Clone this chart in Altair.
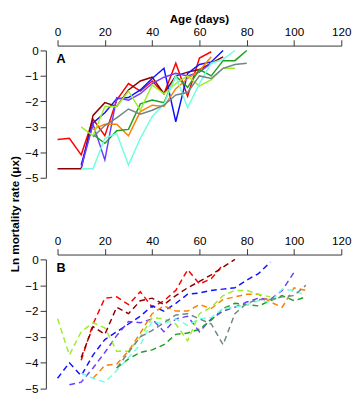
import altair as alt
import pandas as pd

DAYS = [0, 5, 10, 15, 20, 25, 30, 35, 40, 45, 50, 55, 60, 65, 70, 75, 80, 85, 90, 95, 100, 105]
N = None

# Panel A (solid lines) – ln mortality rate by age, one value per DAYS entry
A_red     = [-3.5, -3.45, -4.1, -2.7, -3.35, -1.95, -1.3, -1.6, -1.2, -1.7, -0.5, -1.8, -0.3, -0.05, N, N, N, N, N, N, N, N]
A_darkred = [-4.65, -4.65, -4.65, -2.55, -2.05, -2.2, -1.55, -1.2, -1.05, -1.7, -1.0, -0.85, -0.75, -0.5, -0.25, N, N, N, N, N, N, N]
A_blue    = [N, N, -4.5, -2.85, -2.45, -1.9, -1.85, -1.55, -1.1, -0.7, -2.8, -0.9, -0.55, -0.45, 0.0, N, N, N, N, N, N, N]
A_violet  = [N, N, -4.6, -2.9, -4.3, -1.85, -1.95, -1.7, -1.3, -1.05, -0.9, -1.0, -0.85, -0.5, N, N, N, N, N, N, N, N]
A_orange  = [N, N, N, -3.1, -2.9, -2.9, -3.35, -2.4, -2.15, -2.2, -1.5, -1.1, -0.8, -0.25, N, N, N, N, N, N, N, N]
A_green   = [N, N, N, -3.3, -3.65, -3.15, -3.1, -2.1, -1.95, -2.05, -1.0, -1.45, -0.75, -1.0, -0.4, -0.4, 0.0, N, N, N, N, N]
A_lime    = [N, N, -3.0, -3.35, -2.2, -2.2, -1.6, -2.35, -1.35, -1.7, -1.3, -1.0, -1.4, -1.15, -0.7, -0.7, N, N, N, N, N, N]
A_cyan    = [N, N, -4.65, -4.65, -3.45, -3.25, -4.5, -3.45, -2.6, -2.1, -1.0, -2.25, -1.3, -0.5, -0.35, 0.0, N, N, N, N, N, N]
A_gray    = [N, N, N, -3.4, -2.95, -2.65, -2.3, -2.5, -2.35, -2.15, -1.75, -1.65, -1.0, -1.1, -0.7, -0.55, -0.5, N, N, N, N, N]

# Panel B (dashed lines)
B_red     = [N, N, -3.9, -2.5, -1.5, -1.45, -1.75, -1.25, -1.85, -1.6, -1.2, -0.4, -0.95, -0.75, -0.2, N, N, N, N, N, N, N]
B_darkred = [N, N, -3.8, -2.6, -2.9, -1.85, -2.1, -1.6, -1.5, -1.75, -1.4, -1.1, -0.85, -0.6, -0.3, 0.0, N, N, N, N, N, N]
B_blue    = [-4.6, -4.0, -4.5, -3.7, -3.1, -2.8, -2.5, -2.2, -1.8, -2.0, -1.7, -1.35, -1.3, -1.2, -1.15, -1.1, -0.8, -0.55, -0.1, N, N, N]
B_violet  = [N, -4.85, -4.75, -4.2, -3.6, -2.95, -2.4, -2.45, -2.3, -2.8, -2.3, -2.2, -2.8, -2.3, -2.0, -1.85, -1.65, -1.5, -1.55, -1.2, -0.5, N]
B_orange  = [N, N, N, -4.6, -4.1, -4.05, -3.55, -2.85, -2.1, -1.8, -2.0, -2.0, -1.75, -1.9, -1.55, -1.45, -1.35, -1.35, -1.65, -1.85, -1.1, -1.2]
B_green   = [N, N, N, N, N, -4.2, -3.85, -3.6, -3.5, -3.3, -2.9, -2.85, -2.7, -2.35, -1.9, -1.7, -1.75, -1.8, -1.6, -1.4, -1.6, -1.45]
B_lime    = [-2.3, -3.7, -2.8, -2.45, -2.65, -3.55, -3.55, -3.0, -2.25, -2.3, -2.5, -3.15, -2.1, -1.85, -1.4, -1.2, -1.2, -1.35, -1.45, N, N, N]
B_cyan    = [N, N, -4.4, -4.6, -4.75, -4.3, -3.8, -3.3, -2.4, -2.5, -2.3, -2.55, -2.3, -2.25, -1.9, -1.85, -1.75, -1.6, -1.65, -1.15, -1.2, -1.4]
B_gray    = [N, N, N, N, N, -4.2, -3.6, -3.0, -2.75, -2.45, -2.15, -2.1, -2.3, -2.5, -3.3, -2.1, -1.7, -1.55, -1.55, -1.45, -1.4, -1.0]

SERIES = ["red", "darkred", "blue", "violet", "orange", "green", "lime", "cyan", "gray"]
COLORS = ["#FF0000", "#8B0000", "#1010FF", "#6A3DFF", "#FF7F00", "#1EA01E", "#9AEE2A", "#6FFFE0", "#708585"]

X_TICKS = [0, 20, 40, 60, 80, 100, 120]
Y_TICKS = [0, -1, -2, -3, -4, -5]
X_TITLE = "Age (days)"
Y_TITLE = "Ln mortality rate (μx)"

FONT = "Liberation Sans"


def to_long(series_lists):
    rows = []
    for name, vals in zip(SERIES, series_lists):
        for d, v in zip(DAYS, vals):
            if v is not None:
                rows.append({"day": d, "value": v, "series": name})
    return pd.DataFrame(rows)


dfA = to_long([A_red, A_darkred, A_blue, A_violet, A_orange, A_green, A_lime, A_cyan, A_gray])
dfB = to_long([B_red, B_darkred, B_blue, B_violet, B_orange, B_green, B_lime, B_cyan, B_gray])

color = alt.Color("series:N", scale=alt.Scale(domain=SERIES, range=COLORS), legend=None)

AX = dict(domainColor="#333", tickColor="#333")
W = 292


def panel(df, label, dashed, first, h):
    x_axis = alt.Axis(orient="top", values=X_TICKS, offset=5, tickSize=6, labelPadding=1,
                      labelFlush=False, **AX)
    x = alt.X("day:Q", scale=alt.Scale(domain=[0, 120], nice=False, zero=False),
              axis=x_axis, title=None)
    if first:
        y_axis = alt.Axis(values=Y_TICKS, offset=12, tickSize=6, labelPadding=2,
                          titleY=168, titlePadding=4, **AX)
        y = alt.Y("value:Q", scale=alt.Scale(domain=[-5, 0], nice=False, zero=False),
                  axis=y_axis, title=Y_TITLE)
    else:
        y_axis = alt.Axis(values=Y_TICKS, offset=12, tickSize=6, labelPadding=2, **AX)
        y = alt.Y("value:Q", scale=alt.Scale(domain=[-5, 0], nice=False, zero=False),
                  axis=y_axis, title=None)
    if dashed:
        mark = alt.Chart(df).mark_line(strokeWidth=1.5, strokeDash=[6, 4])
    else:
        mark = alt.Chart(df).mark_line(strokeWidth=1.5)
    lines = mark.encode(x=x, y=y, color=color, detail="series:N", order="day:Q")
    lab = alt.Chart(pd.DataFrame({"t": [label]})).mark_text(
        align="left", baseline="middle", fontWeight="bold", fontSize=13, font=FONT, color="black"
    ).encode(x=alt.value(-1), y=alt.value(9), text="t:N")
    layers = [lines, lab]
    if first:
        ttl = alt.Chart(pd.DataFrame({"t": [X_TITLE]})).mark_text(
            align="center", baseline="top", fontWeight="bold", fontSize=12, font=FONT, color="black"
        ).encode(x=alt.value(W / 2), y=alt.value(-37), text="t:N")
        layers.append(ttl)
    return alt.layer(*layers).properties(width=W, height=h)


chartA = panel(dfA, "A", False, True, 131)
chartB = panel(dfB, "B", True, False, 133)

chart = alt.vconcat(chartA, chartB, spacing=84, bounds="flush").properties(
    padding={"left": 0, "top": 0, "right": 0, "bottom": 0}
).configure_view(stroke=None).configure_axis(
    grid=False, labelFont=FONT, titleFont=FONT, labelFontSize=12, titleFontSize=12,
    titleFontWeight="bold", labelColor="black", titleColor="black"
)

chart.save("out.html", embed_options={"renderer": "svg", "actions": False})
